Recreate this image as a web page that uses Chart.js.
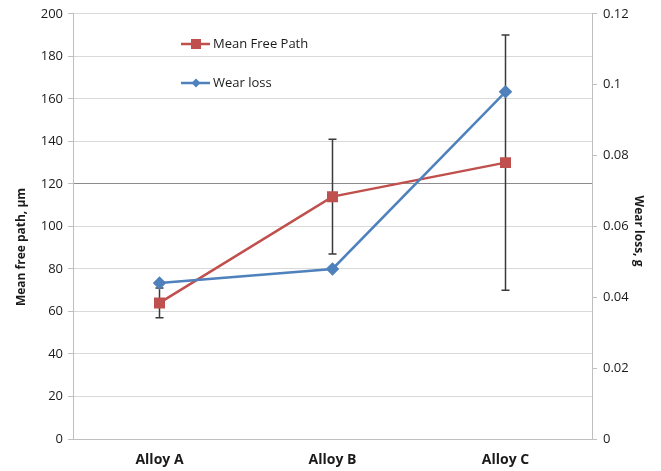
<!DOCTYPE html>
<html>
<head>
<meta charset="utf-8">
<script src="https://cdn.jsdelivr.net/npm/chart.js@4.4.0/dist/chart.umd.min.js"></script>
<style>
  html, body { margin: 0; padding: 0; background: #fff; }
  #wrap { width: 661px; height: 471px; position: relative; }
</style>
</head>
<body>
<div id="wrap"><canvas id="canvas" width="661" height="471"></canvas></div>
<script>
// data
var alloys = ["Alloy A", "Alloy B", "Alloy C"];
var meanFreePath = [64, 114, 130];
var meanFreePathErr = [7, 27, 60];
var wearLoss = [0.044, 0.048, 0.098];
var leftTicks = [0, 20, 40, 60, 80, 100, 120, 140, 160, 180, 200];
var rightTicks = [0, 0.02, 0.04, 0.06, 0.08, 0.1, 0.12];

var RED = "#C0504D";
var BLUE = "#4F81BD";
var FONT = "'Open Sans', 'Noto Sans', sans-serif";

// error bars on the mean free path series
var errorBars = {
    id: "errorBars",
    beforeDatasetsDraw: function (chart) {
        var ctx = chart.ctx;
        var x = chart.scales.x;
        var y = chart.scales.y;
        ctx.save();
        ctx.strokeStyle = "#3a3a3a";
        ctx.lineWidth = 1.5;
        for (var i = 0; i < meanFreePath.length; i++) {
            var px = x.getPixelForValue(i);
            var top = y.getPixelForValue(meanFreePath[i] + meanFreePathErr[i]);
            var bot = y.getPixelForValue(meanFreePath[i] - meanFreePathErr[i]);
            ctx.beginPath();
            ctx.moveTo(px, top); ctx.lineTo(px, bot);
            ctx.moveTo(px - 4, top); ctx.lineTo(px + 4, top);
            ctx.moveTo(px - 4, bot); ctx.lineTo(px + 4, bot);
            ctx.stroke();
        }
        ctx.restore();
    }
};

// legend inside the plot + axis titles placed like the original
var innerLegend = {
    id: "innerLegend",
    afterDraw: function (chart) {
        var ctx = chart.ctx;
        var items = [
            { text: "Mean Free Path", color: RED, shape: "rect", y: 44 },
            { text: "Wear loss", color: BLUE, shape: "diamond", y: 83 }
        ];
        ctx.save();
        items.forEach(function (it) {
            ctx.strokeStyle = it.color;
            ctx.fillStyle = it.color;
            ctx.lineWidth = 2.5;
            ctx.beginPath();
            ctx.moveTo(181, it.y); ctx.lineTo(210, it.y);
            ctx.stroke();
            if (it.shape == "rect") {
                ctx.fillRect(191, it.y - 5, 10, 10);
            } else {
                ctx.beginPath();
                ctx.moveTo(196, it.y - 4.5); ctx.lineTo(200.5, it.y);
                ctx.lineTo(196, it.y + 4.5); ctx.lineTo(191.5, it.y);
                ctx.closePath(); ctx.fill();
            }
            ctx.fillStyle = "#1a1a1a";
            ctx.font = "13px " + FONT;
            ctx.textBaseline = "middle";
            ctx.fillText(it.text, 213, it.y);
        });

        // axis titles
        ctx.fillStyle = "#1a1a1a";
        ctx.font = "bold 12px " + FONT;
        ctx.textAlign = "center";
        ctx.textBaseline = "middle";
        ctx.save();
        ctx.translate(22, 247);
        ctx.rotate(-Math.PI / 2);
        ctx.fillText("Mean free path, µm", 0, 0);
        ctx.restore();
        ctx.save();
        ctx.translate(638, 231);
        ctx.rotate(Math.PI / 2);
        ctx.fillText("Wear loss, g", 0, 0);
        ctx.restore();
        ctx.restore();
    }
};

const source = {
    labels: alloys,
    datasets: [
        {
            label: "Mean Free Path",
            data: meanFreePath,
            yAxisID: "y",
            borderColor: RED,
            backgroundColor: RED,
            borderWidth: 2.5,
            pointStyle: "rect",
            pointRadius: 6,
            pointHoverRadius: 6,
            order: 2
        },
        {
            label: "Wear loss",
            data: wearLoss,
            yAxisID: "y1",
            borderColor: BLUE,
            backgroundColor: BLUE,
            borderWidth: 2.5,
            pointStyle: "rectRot",
            pointRadius: 5,
            pointHoverRadius: 5,
            order: 1
        }
    ]
};

const config = {
    type: "line",
    data: source,
    plugins: [errorBars, innerLegend],
    options: {
        responsive: false,
        animation: false,
        layout: { padding: { top: 13, left: 0, right: 0, bottom: 0 } },
        plugins: {
            legend: { display: false },
            tooltip: { enabled: false }
        },
        scales: {
            x: {
                offset: true,
                grid: { display: false, drawTicks: false },
                border: { display: true, color: "#bfbfbf", width: 1 },
                ticks: {
                    padding: 13,
                    color: "#1a1a1a",
                    font: { family: FONT, size: 14, weight: "bold" }
                },
                afterFit: function (s) { s.height = 32; }
            },
            y: {
                position: "left",
                min: 0,
                max: 200,
                afterBuildTicks: function (s) {
                    s.ticks = leftTicks.map(function (v) { return { value: v }; });
                },
                grid: {
                    color: function (c) { return c.tick && c.tick.value == 120 ? "#8c8c8c" : "#d9d9d9"; },
                    lineWidth: 1,
                    tickLength: 5,
                    tickColor: "#bfbfbf"
                },
                border: { display: true, color: "#bfbfbf", width: 1 },
                ticks: {
                    padding: 5,
                    color: "#1a1a1a",
                    font: { family: FONT, size: 13 }
                },
                afterFit: function (s) { s.width = 73; }
            },
            y1: {
                position: "right",
                min: 0,
                max: 0.12,
                afterBuildTicks: function (s) {
                    s.ticks = rightTicks.map(function (v) { return { value: v }; });
                },
                grid: {
                    drawOnChartArea: false,
                    tickLength: 5,
                    tickColor: "#bfbfbf"
                },
                border: { display: true, color: "#bfbfbf", width: 1 },
                ticks: {
                    padding: 6,
                    color: "#1a1a1a",
                    font: { family: FONT, size: 13 },
                    callback: function (v) { return String(Math.round(v * 100) / 100); }
                },
                afterFit: function (s) { s.width = 69; }
            }
        }
    }
};

const canvas = document.getElementById("canvas").getContext("2d");
const chart = new Chart(canvas, config);
</script>
</body>
</html>
